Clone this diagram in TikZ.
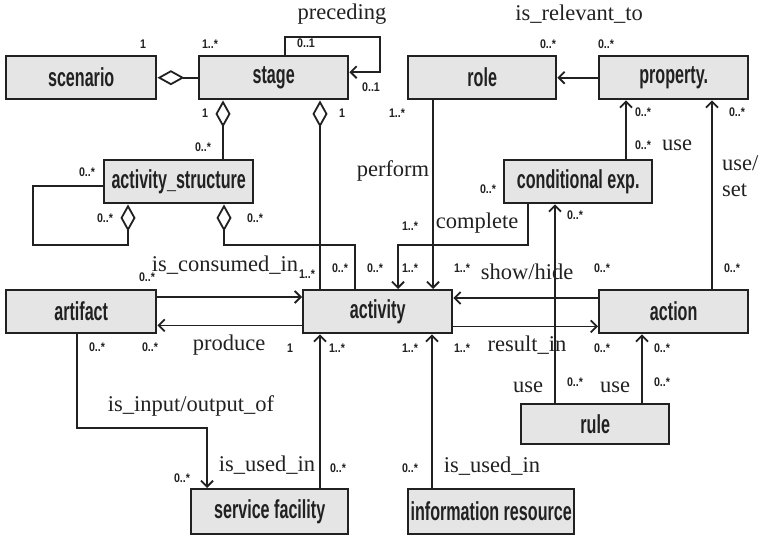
\documentclass[tikz,border=0pt]{standalone}
\usepackage{fontspec}
\setmainfont{Liberation Serif}
\newfontfamily\boxfont[FakeStretch=0.62]{Liberation Sans}
\newfontfamily\multfont[FakeStretch=0.85]{Liberation Sans}
\usetikzlibrary{arrows.meta}
\definecolor{boxfill}{gray}{0.9}
\definecolor{ink}{gray}{0.13}
\tikzset{
  cls/.style={draw=ink, line width=2.4pt, fill=boxfill, anchor=north west,
    minimum height=43pt, minimum width=149pt, inner sep=0pt,
    font=\boxfont\bfseries\fontsize{26}{26}\selectfont, text=ink},
  mult/.style={font=\multfont\bfseries\fontsize{12.5}{12.5}\selectfont, inner sep=0pt, text=ink},
  rel/.style={font=\fontsize{22.5}{22.5}\selectfont, inner sep=0pt, text=ink},
  conn/.style={draw=ink, line width=1.8pt},
  arr/.style={conn, -{Straight Barb[length=6pt,width=12pt]}},
  agg/.style={conn, {Diamond[open,length=27pt,width=15pt]}-},
}
\begin{document}
\begin{tikzpicture}[x=1pt, y=-1pt]
\useasboundingbox (0,0) rectangle (760,537);

% classes
\node[cls, minimum width=150pt] (scenario) at (5,55) {scenario};
\node[cls] (stage) at (198,55) {stage};
\node[cls, minimum width=148pt] (role) at (407,55) {role};
\node[cls] (property) at (598,55) {property.};
\node[cls] (as) at (103,159) {activity\_structure};
\node[cls, minimum width=148pt] (cond) at (503,159) {conditional exp.};
\node[cls, minimum width=150pt] (artifact) at (5,289) {artifact};
\node[cls] (activity) at (302,289) {activity};
\node[cls] (action) at (598,289) {action};
\node[cls, minimum width=148pt, minimum height=40pt] (rule) at (520,403) {rule};
\node[cls, minimum width=157pt, minimum height=45pt] (sf) at (190,488) {service facility};
\node[cls, minimum width=166pt, minimum height=45pt] (info) at (407,488) {information resource};

% aggregations
\draw[agg] (scenario.east) -- (stage.west);
\draw[agg] ([xshift=25]stage.south west) -- ([xshift=120]as.north west);
\draw[agg] ([xshift=122]stage.south west) -- ([xshift=18]activity.north west);
\draw[agg] ([xshift=25]as.south west) |- (33,245) |- ([yshift=-4]as.west);
\draw[agg] ([xshift=121]as.south west) |- (355,245) -- ([xshift=53]activity.north west);

% associations
\draw[arr] ([xshift=87]stage.north west) |- (380,37) |- ([yshift=5.5]stage.east);
\draw[arr] (property.west) -- (role.east);
\draw[arr] ([xshift=25]cond.south west) |- (398,245) -- ([xshift=96]activity.north west);
\draw[arr] ([xshift=26]role.south west) -- ([xshift=131]activity.north west);
\draw[arr] ([xshift=123]cond.north west) -- ([xshift=28]property.south west);
\draw[arr] ([xshift=114]action.north west) -- ([xshift=114]property.south west);
\draw[arr] ([yshift=-8]artifact.north east) -- ([yshift=-8]activity.north west);
\draw[arr] ([yshift=9]activity.south west) -- ([yshift=9]artifact.south east);
\draw[arr] ([yshift=-9]action.north west) -- ([yshift=-9]activity.north east);
\draw[arr] ([yshift=8]activity.south east) -- ([yshift=8]action.south west);
\draw[arr] ([xshift=35]rule.north west) -- ([xshift=52]cond.south west);
\draw[arr] ([xshift=122]rule.north west) -- ([xshift=44]action.south west);
\draw[arr] ([xshift=130]sf.north west) -- ([xshift=18]activity.south west);
\draw[arr] ([xshift=72]artifact.south west) |- (207,428) -- ([xshift=17]sf.north west);
\draw[arr] ([xshift=25]info.north west) -- ([xshift=130]activity.south west);

% relation names
\node[rel] (r1) at (342,14) {preceding};
\node[rel] (r2) at (579,14) {is\_relevant\_to};
\node[rel] (r3) at (393,171) {perform};
\node[rel] (r4) at (677,145) {use};
\node[rel, anchor=west] (r5) at (722,163) {use/};
\node[rel, anchor=west] (r6) at (722,190) {set};
\node[rel] (r7) at (477,223) {complete};
\node[rel] (r8) at (225,265) {is\_consumed\_in};
\node[rel] (r9) at (527,272) {show/hide};
\node[rel] (r10) at (229,345) {produce};
\node[rel] (r11) at (527,345) {result\_in};
\node[rel] (r12) at (528,387) {use};
\node[rel] (r13) at (615,387) {use};
\node[rel] (r14) at (191,406) {is\_input/output\_of};
\node[rel] (r15) at (267,465) {is\_used\_in};
\node[rel] (r16) at (492,466) {is\_used\_in};

% multiplicities
\node[mult] (m1) at (143,44) {1};
\node[mult] (m2) at (210,44) {1..*};
\node[mult] (m3) at (306,43) {0..1};
\node[mult] (m4) at (371,87) {0..1};
\node[mult] (m5) at (548,44) {0..*};
\node[mult] (m6) at (606,44) {0..*};
\node[mult] (m7) at (205,113) {1};
\node[mult] (m8) at (342,113) {1};
\node[mult] (m9) at (397,113) {1..*};
\node[mult] (m10) at (643,112) {0..*};
\node[mult] (m11) at (737,112) {0..*};
\node[mult] (m12) at (643,145) {0..*};
\node[mult] (m13) at (203,147) {0..*};
\node[mult] (m14) at (87,172) {0..*};
\node[mult] (m15) at (488,189) {0..*};
\node[mult] (m16) at (105,218) {0..*};
\node[mult] (m17) at (255,218) {0..*};
\node[mult] (m18) at (575,215) {0..*};
\node[mult] (m19) at (410,226) {1..*};
\node[mult] (m20) at (147,277) {0..*};
\node[mult] (m21) at (307,274) {1..*};
\node[mult] (m22) at (340,268) {0..*};
\node[mult] (m23) at (375,268) {0..*};
\node[mult] (m24) at (410,268) {1..*};
\node[mult] (m25) at (462,268) {1..*};
\node[mult] (m26) at (602,268) {0..*};
\node[mult] (m27) at (732,268) {0..*};
\node[mult] (m28) at (97,347) {0..*};
\node[mult] (m29) at (150,347) {0..*};
\node[mult] (m30) at (290,348) {1};
\node[mult] (m31) at (337,348) {1..*};
\node[mult] (m32) at (410,348) {1..*};
\node[mult] (m33) at (462,348) {1..*};
\node[mult] (m34) at (602,348) {0..*};
\node[mult] (m35) at (662,348) {0..*};
\node[mult] (m36) at (575,382) {0..*};
\node[mult] (m37) at (662,382) {0..*};
\node[mult] (m38) at (182,478) {0..*};
\node[mult] (m39) at (338,468) {0..*};
\node[mult] (m40) at (410,468) {0..*};
\end{tikzpicture}
\end{document}
